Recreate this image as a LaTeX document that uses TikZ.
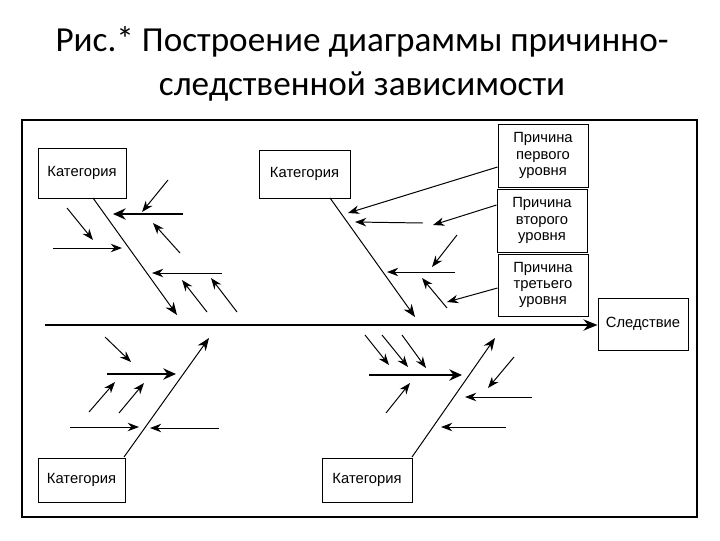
\documentclass[tikz,border=0pt]{standalone}
\usepackage{fontspec}
\setmainfont{Carlito}
\newfontfamily\boxfont{Liberation Sans}
\usetikzlibrary{arrows.meta}
\begin{document}
\begin{tikzpicture}[x=0.025cm,y=-0.025cm,
    cat/.style={draw,line width=0.7pt,inner sep=0,font=\boxfont\fontsize{10.5}{11.5}\selectfont,align=center},
    bone/.style={line width=0.7pt,-{Stealth[length=9pt,width=7pt]}},
    rib/.style={line width=0.7pt,-{Stealth[length=8pt,width=6pt]}},
    thickrib/.style={line width=1.5pt,-{Stealth[length=9pt,width=8pt]}}]
  \useasboundingbox (0,0) rectangle (720,540);
  % title
  \node (title) at (362,64) [font=\fontsize{25}{31}\selectfont,align=center]
    {Рис.* Построение диаграммы причинно-\\следственной зависимости};
  % frame
  \node (frame) [draw,line width=1pt,minimum width=675*0.025cm,minimum height=397*0.025cm] at (359.5,318.5) {};
  % category boxes
  \node (catA) [cat,minimum width=88*0.025cm,minimum height=50*0.025cm] at (82,173) {Категория};
  \node (catB) [cat,minimum width=91*0.025cm,minimum height=48*0.025cm] at (304.5,174) {Категория};
  \node (catC) [cat,minimum width=87*0.025cm,minimum height=44*0.025cm] at (81.5,480) {Категория};
  \node (catD) [cat,minimum width=90*0.025cm,minimum height=44*0.025cm] at (367,480) {Категория};
  % cause levels
  \node (lev1) [cat,minimum width=90*0.025cm,minimum height=63*0.025cm] at (543,155.5) {Причина\\первого\\уровня};
  \node (lev2) [cat,minimum width=90*0.025cm,minimum height=63*0.025cm] at (542,220.5) {Причина\\второго\\уровня};
  \node (lev3) [cat,minimum width=90*0.025cm,minimum height=62*0.025cm] at (543,285) {Причина\\третьего\\уровня};
  \node (effect) [cat,minimum width=90*0.025cm,minimum height=52*0.025cm] at (643,324) {Следствие};
  % spine
  \coordinate (tail) at (45,325);
  \draw[line width=1.5pt,-{Stealth[length=10pt,width=8pt]}] (tail) -- (tail -| effect.west);
  % main bones
  \coordinate (endA) at (177,315);
  \coordinate (endB) at (415,317);
  \coordinate (endC) at (209,338);
  \coordinate (endD) at (495,338);
  \draw[bone] (93,198) -- (endA);
  \draw[bone] (330,198) -- (endB);
  \draw[bone] (124,457) -- (endC);
  \draw[bone] (412,457) -- (endD);
  % level arrows
  \coordinate (hitB1) at (348,213);
  \coordinate (hitB2) at (433,225);
  \coordinate (hitB3) at (447,302);
  \draw[rib] (lev1.west |- 0,167) -- (hitB1);
  \draw[rib] (lev2.west |- 0,205) -- (hitB2);
  \draw[rib] (lev3.west |- 0,288) -- (hitB3);
  % thick ribs
  \draw[thickrib] (183,214) -- (113,214);
  \draw[thickrib] (107,374) -- (176,374);
  \draw[thickrib] (369,375) -- (462,375);
  % small ribs
  \foreach \xa/\ya/\xb/\yb in {168/180/142/212, 180/253/153/223, 67/208/93/240, 53/248/122/248,
      222/273/152/273, 207/312/182/280, 237/312/211/278,
      423/223/355/222, 457/235/432/267, 455/272/387/272, 447/308/422/278,
      105/337/131/362, 89/412/115/382, 119/413/144/383, 70/427/139/427, 219/428/150/428,
      365/335/389/365, 382/335/408/367, 402/335/426/368, 386/413/410/383,
      514/357/488/388, 532/397/465/397, 506/427/441/427}
    \draw[rib] (\xa,\ya) -- (\xb,\yb);
\end{tikzpicture}
\end{document}
